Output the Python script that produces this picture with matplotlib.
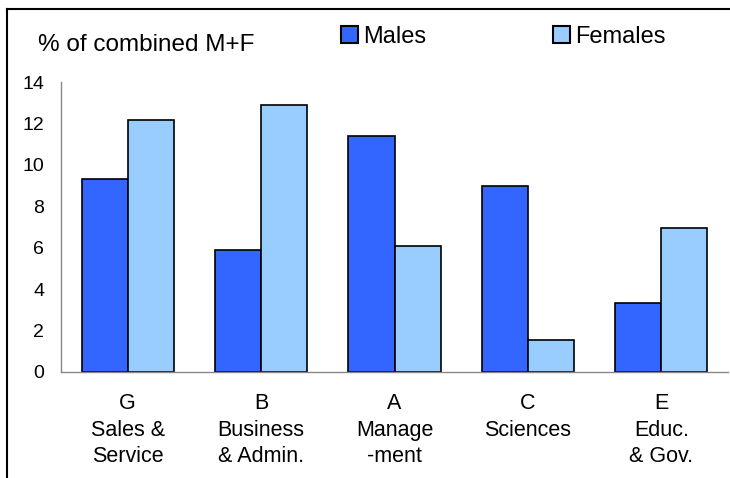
import matplotlib
matplotlib.use("Agg")
import matplotlib.pyplot as plt
from matplotlib.lines import Line2D
from matplotlib.patches import Patch
import numpy as np

plt.rcParams['font.family'] = ['Liberation Sans', 'DejaVu Sans']

categories = ["G\nSales &\nService", "B\nBusiness\n& Admin.", "A\nManage\n-ment", "C\nSciences", "E\nEduc.\n& Gov."]
males = [9.3, 5.9, 11.4, 9.0, 3.35]
females = [12.15, 12.9, 6.1, 1.55, 6.97]
series_names = ["Males", "Females"]
yticks = [0, 2, 4, 6, 8, 10, 12, 14]

W, H = 730, 478
fig = plt.figure(figsize=(W / 100, H / 100), dpi=100)
ax = fig.add_axes([61 / W, 1 - 372 / H, (728 - 61) / W, (372 - 82) / H])

x = np.arange(len(categories))
bw = 0.345
ax.bar(x - bw / 2, males, bw, color="#3366FF", edgecolor="black", linewidth=1.2, label=series_names[0])
ax.bar(x + bw / 2, females, bw, color="#99CCFF", edgecolor="black", linewidth=1.2, label=series_names[1])

ax.set_xlim(-0.5, len(categories) - 0.5)
ax.set_ylim(0, 14)
ax.set_yticks(yticks)
ax.set_xticks(x)
ax.set_xticklabels(categories, linespacing=1.36)
ax.tick_params(axis='both', length=0)
ax.tick_params(axis='y', pad=12, labelsize=14)
ax.tick_params(axis='x', pad=15, labelsize=15.5)
for s in ["top", "right"]:
    ax.spines[s].set_visible(False)
for s in ["left", "bottom"]:
    ax.spines[s].set_color("#888888")
    ax.spines[s].set_linewidth(1.0)

fig.text(38 / W, 1 - 45 / H, "% of combined M+F", fontsize=17.5, va="center", ha="left")

handles = [Patch(facecolor="#3366FF", edgecolor="black", linewidth=1.5),
           Patch(facecolor="#99CCFF", edgecolor="black", linewidth=1.5)]
fig.legend(handles, series_names, loc="center left", bbox_to_anchor=(341 / W, 1 - 37 / H),
           ncol=2, frameon=False, fontsize=17, handlelength=0.7, handleheight=0.7,
           handletextpad=0.24, columnspacing=5.37, borderpad=0.0, borderaxespad=0.0)

fig.add_artist(Line2D([7 / W, 7 / W], [0, 1 - 9 / H], color="black", lw=1.5, transform=fig.transFigure))
fig.add_artist(Line2D([7 / W, 1], [1 - 9 / H, 1 - 9 / H], color="black", lw=1.5, transform=fig.transFigure))

fig.savefig("out.png", dpi=100)
